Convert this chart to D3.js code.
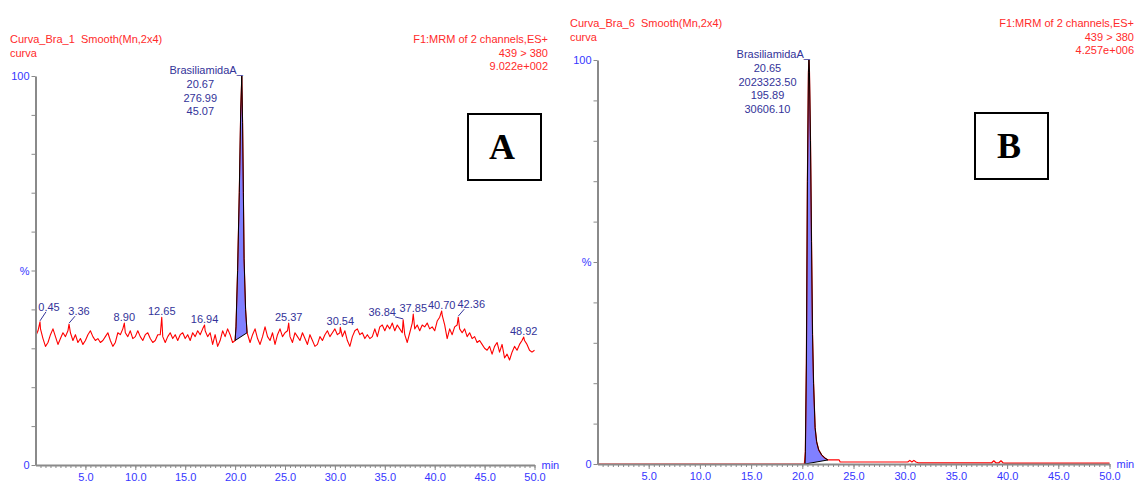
<!DOCTYPE html>
<html>
<head>
<meta charset="utf-8">
<script src="https://cdn.jsdelivr.net/npm/d3@7"></script>
<style>
  body { margin: 0; background: #fff; }
  svg text { font-family: "Liberation Sans", Arial, sans-serif; }
  svg text.panel-letter { font-family: "Liberation Serif", "Times New Roman", serif; font-weight: bold; }
  svg text.pre { white-space: pre; }
</style>
</head>
<body>
<svg id="chart" width="1141" height="482"></svg>
<script>
// ---------- Data ----------
// Axis ticks (retention time, min) and relative intensity ticks (%)
const timeTickLabels = [5, 10, 15, 20, 25, 30, 35, 40, 45, 50];
const intensityTicks = [0, 10, 20, 30, 40, 50, 60, 70, 80, 90, 100];

// Chromatogram A: baseline noise sampled every 0.25 min from 0.00 min (null = inside peak window)
const noiseStartA = 0;
const noiseStepA = 0.25;
const noiseA = [
  33.0, 34.5, 35.0, 32.5, 30.5, 31.5, 33.5, 35.0, 33.0, 31.0, 32.5, 34.0, 33.0, 34.5, 34.0, 32.0, 33.5, 31.5, 32.5, 31.0,
  32.0, 33.5, 34.5, 33.0, 32.0, 32.5, 31.5, 32.0, 33.0, 34.0, 32.0, 30.5, 31.5, 34.0, 33.5, 35.0, 34.0, 33.0, 34.5, 32.5,
  33.0, 34.5, 33.0, 32.0, 33.5, 34.0, 32.5, 31.5, 32.0, 33.5, 33.5, 33.0, 31.5, 33.0, 34.0, 32.5, 33.5, 32.0, 33.5, 34.0,
  32.5, 33.5, 32.0, 34.0, 33.0, 34.5, 33.5, 35.0, 34.5, 33.0, 34.0, 31.0, 33.5, 30.5, 32.0, 34.5, 33.0, 35.0, 33.5, 31.5,
  null, null, null, null, null, null, 31.5, 33.5, 35.0, 32.5, 31.0, 33.0, 35.5, 33.0, 32.0, 34.0, 31.0, 33.5, 35.0, 33.0,
  34.0, 34.5, 33.0, 31.5, 34.0, 33.0, 32.0, 34.0, 32.5, 31.0, 33.5, 32.0, 30.5, 31.0, 33.0, 32.0, 33.5, 34.5, 33.0, 34.0,
  35.0, 33.5, 34.0, 33.0, 34.5, 32.0, 30.5, 33.0, 34.5, 35.0, 33.5, 34.0, 32.5, 33.5, 32.5, 33.0, 35.0, 33.0, 35.5, 36.0,
  34.5, 36.0, 35.0, 36.5, 34.5, 36.0, 35.0, 34.0, 33.5, 31.5, 34.0, 36.5, 35.0, 36.0, 34.5, 36.0, 35.5, 36.5, 35.0, 35.5,
  34.5, 37.0, 38.0, 38.5, 36.0, 32.5, 35.0, 33.5, 35.5, 36.0, 35.0, 34.0, 35.0, 33.0, 34.0, 32.5, 33.0, 31.5, 32.0, 31.0,
  30.0, 29.5, 30.5, 28.5, 30.5, 31.5, 29.0, 31.0, 27.5, 28.5, 27.0, 29.0, 30.5, 29.5, 31.0, 32.0, 32.0, 31.0, 29.5, 29.0,
  29.5
];
// Labelled noise maxima in A (time, %)
const apexTimesA = [0.45, 3.36, 8.90, 12.65, 16.94, 25.37, 30.54, 36.84, 37.85, 40.70, 42.36, 48.92];
const apexValuesA = [36.8, 36.2, 36.5, 38.0, 36.0, 36.5, 35.4, 37.3, 38.8, 39.6, 38.0, 32.9];
// Integrated peak in A
const peakTimesA = [20.0, 20.09, 20.25, 20.42, 20.56, 20.67, 20.75, 20.83, 20.9, 21.05, 21.2];
const peakValuesA = [32.0, 35.5, 50.0, 70.0, 91.0, 100.0, 88.0, 70.0, 53.0, 40.0, 34.0];
const peakInfoA = ["20.67", "276.99", "45.07"];

// Chromatogram B
const traceTimesB = [0, 20.2, 20.3, 20.4, 20.5, 20.6, 20.65, 20.7, 20.8, 20.9, 21.0, 21.1, 21.25, 21.4, 21.6, 21.9, 22.2, 22.5,
  22.6, 23.6, 23.7, 30.3, 30.5, 30.7, 30.9, 31.1, 31.3, 38.5, 38.7, 38.9, 39.2, 39.4, 39.6, 39.8, 50.0];
const traceValuesB = [0, 0, 3, 25, 70, 97, 100, 97, 80, 55, 32, 20, 9, 5.5, 3.5, 2.2, 1.5, 1.0,
  1.0, 1.0, 0.5, 0.5, 0.9, 0.5, 0.9, 0.5, 0.3, 0.3, 0.8, 0.3, 0.3, 0.8, 0.3, 0.2, 0.2];
const peakStartB = 20.27, peakEndB = 22.5;
const peakInfoB = ["20.65", "2023323.50", "195.89", "30606.10"];

const compoundName = "BrasiliamidaA_";

// ---------- Drawing ----------
const svg = d3.select("#chart");
const RED = "#ff0000", HEAD = "#ff2a2a", BLUE = "#3636ff", NAVY = "#333399", GRAY = "#8a8a8a", FILL = "#8080ff";

function drawAxes(g, x, y) {
  // minor time ticks
  g.append("g").attr("transform", `translate(0,${y(0)})`)
    .call(d3.axisBottom(x).tickValues(d3.range(0.5, 50.01, 0.5)).tickSize(3).tickFormat(""))
    .call(a => a.select(".domain").remove())
    .call(a => a.selectAll("line").attr("stroke", GRAY));
  // labelled time ticks
  g.append("g").attr("transform", `translate(0,${y(0)})`)
    .call(d3.axisBottom(x).tickValues(timeTickLabels).tickSize(5).tickSizeOuter(0).tickPadding(3)
      .tickFormat(d3.format(".1f")))
    .call(a => a.select(".domain").attr("stroke", GRAY).attr("stroke-width", 2))
    .call(a => a.selectAll("line").attr("stroke", GRAY))
    .call(a => a.selectAll("text").attr("fill", BLUE).attr("font-size", 11)
      .attr("font-family", null));
  // intensity axis
  g.append("g").attr("transform", `translate(${x(0)},0)`)
    .call(d3.axisLeft(y).tickValues(intensityTicks).tickSize(4).tickSizeOuter(0).tickPadding(2)
      .tickFormat(d => d === 100 ? "100" : d === 50 ? "%" : d === 0 ? "0" : ""))
    .call(a => a.select(".domain").attr("stroke", GRAY).attr("stroke-width", 2))
    .call(a => a.selectAll("line").attr("stroke", GRAY))
    .call(a => a.selectAll("text").attr("fill", BLUE).attr("font-size", 11)
      .attr("font-family", null));
  g.append("text").attr("x", x(50) + 7).attr("y", y(0) + 4).attr("fill", BLUE)
    .attr("font-size", 11).text("min");
}

function drawHeader(g, left, right, top, title, scale) {
  const t = g.append("g").attr("fill", HEAD).attr("font-size", 11);
  t.append("text").attr("class", "pre").attr("x", left).attr("y", top).text(title + "  Smooth(Mn,2x4)");
  t.append("text").attr("x", left).attr("y", top + 14).text("curva");
  ["F1:MRM of 2 channels,ES+", "439 > 380", scale].forEach((s, i) =>
    t.append("text").attr("x", right).attr("y", top + i * 13.5).attr("text-anchor", "end").text(s));
}

function drawPeakLabel(g, x, y, t, v, info) {
  const px = x(t), py = y(v);
  const lab = g.append("g").attr("fill", NAVY).attr("font-size", 11);
  lab.append("text").attr("x", px + 1).attr("y", py - 2).attr("text-anchor", "end").text(compoundName);
  info.forEach((s, i) =>
    lab.append("text").attr("x", px - 41.5).attr("y", py + 12 + i * 13.7).attr("text-anchor", "middle").text(s));
}

function drawBox(g, bx, by, letter) {
  g.append("rect").attr("x", bx).attr("y", by).attr("width", 73).attr("height", 66)
    .attr("fill", "#fff").attr("stroke", "#000").attr("stroke-width", 2);
  g.append("text").attr("class", "panel-letter").attr("x", bx + 34).attr("y", by + 45)
    .attr("text-anchor", "middle").attr("font-size", 36).text(letter);
}

const line = (x, y) => d3.line().x(d => x(d[0])).y(d => y(d[1]));

// ----- Panel A -----
{
  const x = d3.scaleLinear([0, 50], [35.5, 534.5]);
  const y = d3.scaleLinear([0, 100], [465, 76]);
  const g = svg.append("g");
  drawHeader(g, 10, 548, 43, "Curva_Bra_1", "9.022e+002");

  const pts = [];
  noiseA.forEach((v, i) => { if (v !== null) pts.push([noiseStartA + i * noiseStepA, v]); });
  apexTimesA.forEach((t, i) => pts.push([t, apexValuesA[i]]));
  peakTimesA.forEach((t, i) => pts.push([t, peakValuesA[i]]));
  pts.sort((a, b) => a[0] - b[0]);

  const peak = peakTimesA.map((t, i) => [t, peakValuesA[i]]);
  g.append("path").attr("d", line(x, y)(peak) + "Z").attr("fill", FILL).attr("stroke", "none");
  g.append("path").datum(pts).attr("d", line(x, y)).attr("fill", "none")
    .attr("stroke", RED).attr("stroke-width", 1.1).attr("stroke-linejoin", "round");
  g.append("path").attr("d", line(x, y)(peak) + "Z").attr("fill", "none")
    .attr("stroke", "#000").attr("stroke-width", 1);

  drawAxes(g, x, y);

  // noise maxima labels
  const shift = { "0.45": [9, -11], "3.36": [10, -9], "36.84": [-21, -4], "42.36": [13, -9] };
  apexTimesA.forEach((t, i) => {
    const key = t.toFixed(2);
    const [dx, dy] = shift[key] || [0, -2];
    const px = x(t), py = y(apexValuesA[i]);
    if (shift[key]) {
      g.append("line").attr("x1", px).attr("y1", py - 1)
        .attr("x2", px + (dx > 0 ? 6 : -8)).attr("y2", py + dy + 1)
        .attr("stroke", NAVY).attr("stroke-width", 1);
    }
    g.append("text").attr("x", px + dx).attr("y", py + dy).attr("text-anchor", "middle")
      .attr("fill", NAVY).attr("font-size", 11).text(key);
  });
  drawPeakLabel(g, x, y, 20.67, 100, peakInfoA);
  drawBox(g, 468, 114, "A");
}

// ----- Panel B -----
{
  const x = d3.scaleLinear([0, 50], [597.5, 1109.5]);
  const y = d3.scaleLinear([0, 100], [464, 60]);
  const g = svg.append("g");
  drawHeader(g, 570, 1134, 27, "Curva_Bra_6", "4.257e+006");

  const pts = traceTimesB.map((t, i) => [t, traceValuesB[i]]);
  const inPeak = pts.filter(d => d[0] >= peakStartB && d[0] <= peakEndB);
  const peak = [[peakStartB, 0], ...inPeak];
  g.append("path").attr("d", line(x, y)(peak) + "Z").attr("fill", FILL).attr("stroke", "none");
  g.append("path").datum(pts).attr("d", line(x, y)).attr("fill", "none")
    .attr("stroke", RED).attr("stroke-width", 1.2).attr("stroke-linejoin", "round");
  g.append("path").attr("d", line(x, y)(peak) + "Z").attr("fill", "none")
    .attr("stroke", "#000").attr("stroke-width", 1);

  drawAxes(g, x, y);
  drawPeakLabel(g, x, y, 20.65, 100, peakInfoB);
  drawBox(g, 975, 113, "B");
}
</script>
</body>
</html>
